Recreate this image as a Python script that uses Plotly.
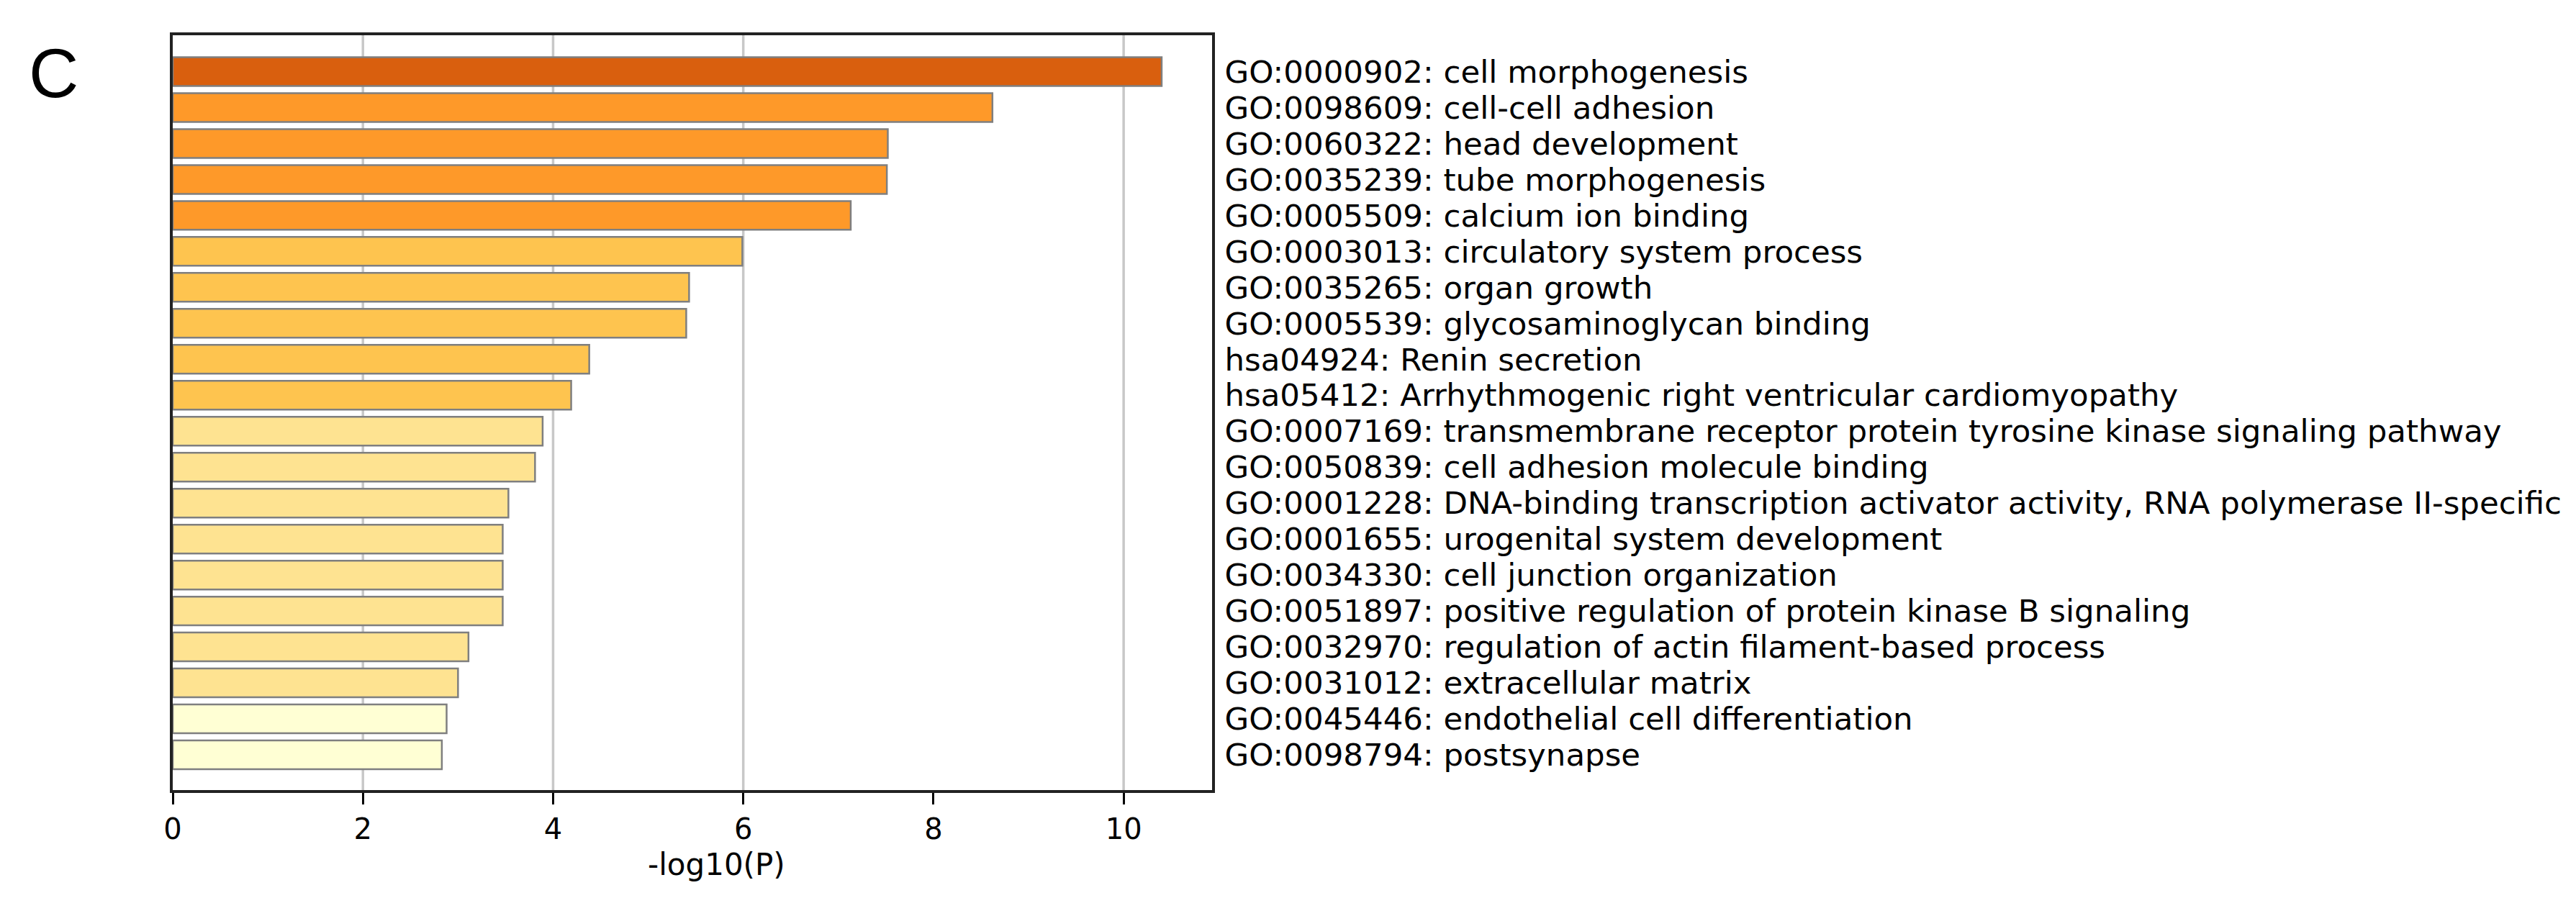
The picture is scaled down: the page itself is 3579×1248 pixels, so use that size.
import plotly.graph_objects as go

# ---- data ----
terms = [
    "GO:0000902: cell morphogenesis",
    "GO:0098609: cell-cell adhesion",
    "GO:0060322: head development",
    "GO:0035239: tube morphogenesis",
    "GO:0005509: calcium ion binding",
    "GO:0003013: circulatory system process",
    "GO:0035265: organ growth",
    "GO:0005539: glycosaminoglycan binding",
    "hsa04924: Renin secretion",
    "hsa05412: Arrhythmogenic right ventricular cardiomyopathy",
    "GO:0007169: transmembrane receptor protein tyrosine kinase signaling pathway",
    "GO:0050839: cell adhesion molecule binding",
    "GO:0001228: DNA-binding transcription activator activity, RNA polymerase II-specific",
    "GO:0001655: urogenital system development",
    "GO:0034330: cell junction organization",
    "GO:0051897: positive regulation of protein kinase B signaling",
    "GO:0032970: regulation of actin filament-based process",
    "GO:0031012: extracellular matrix",
    "GO:0045446: endothelial cell differentiation",
    "GO:0098794: postsynapse",
]
neg_log_p = [10.40, 8.62, 7.52, 7.51, 7.13, 5.99, 5.43, 5.40, 4.38, 4.19,
             3.89, 3.81, 3.53, 3.47, 3.47, 3.47, 3.11, 3.00, 2.88, 2.83]
x_ticks = [0, 2, 4, 6, 8, 10]
grid_at = [2, 4, 6, 10]
x_title = "-log10(P)"
panel_label = "C"

# ---- styles ----
bar_colors = (["#D95F0E"] + ["#FE9929"] * 4 + ["#FEC44F"] * 5 +
              ["#FEE391"] * 8 + ["#FFFFD4"] * 2)

fig = go.Figure()
fig.add_trace(go.Bar(
    orientation="h",
    x=neg_log_p,
    y=terms,
    width=0.8,
    marker=dict(color=bar_colors, line=dict(color="#7f7f7f", width=2.5)),
    showlegend=False,
))

for g in grid_at:
    fig.add_shape(type="line", xref="x", yref="paper", x0=g, x1=g, y0=0, y1=1,
                  layer="below", line=dict(color="#c8c8c8", width=3.5))

fig.add_annotation(text=panel_label, xref="paper", yref="paper",
                   x=-0.1149, y=0.9495, xanchor="center", yanchor="middle",
                   showarrow=False,
                   font=dict(family="Liberation Sans", size=96, color="black"))

# axis title placed as annotation (slightly right of axis centre, as in reference)
fig.add_annotation(text=x_title, xref="paper", yref="paper",
                   x=0.523, y=-0.099, xanchor="center", yanchor="middle",
                   showarrow=False,
                   font=dict(family="DejaVu Sans", size=42, color="black"))

fig.update_layout(
    width=3563, height=1232,
    margin=dict(l=232, r=1860, t=41, b=142),
    paper_bgcolor="white", plot_bgcolor="white",
    font=dict(family="DejaVu Sans", color="black"),
    bargap=0.2,
)
fig.update_xaxes(
    range=[0, 10.93],
    tickvals=x_ticks,
    ticks="outside", ticklen=16, tickwidth=3, tickcolor="black",
    showgrid=False, zeroline=False,
    showline=True, linecolor="#222222", linewidth=3.5, mirror=True,
    tickfont=dict(family="DejaVu Sans", size=40, color="black"),
)
fig.update_yaxes(
    type="category",
    categoryorder="array", categoryarray=terms,
    tickmode="array", tickvals=terms, ticktext=terms,
    range=[19.98, -1.01],
    side="right",
    ticks="", showgrid=False, zeroline=False,
    showline=True, linecolor="#222222", linewidth=3.5, mirror=True,
    tickfont=dict(family="DejaVu Sans", size=43.5, color="black"),
    ticklabelstandoff=5,
)

fig.write_html("out.html")
